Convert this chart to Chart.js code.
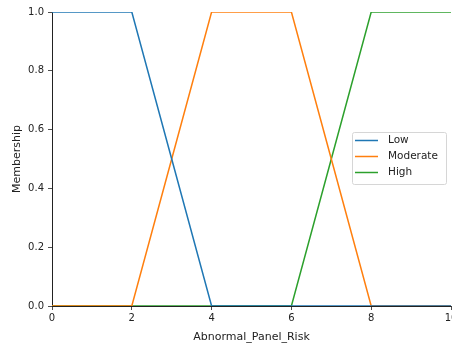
<!DOCTYPE html>
<html><head><meta charset="utf-8">
<script src="https://cdn.jsdelivr.net/npm/chart.js@4/dist/chart.umd.min.js"></script>
<style>html,body{margin:0;padding:0;background:#fff}#wrap{width:452px;height:344px;position:relative}</style>
</head><body><div id="wrap"><canvas id="c"></canvas></div>
<script>
const universe = [0,1,2,3,4,5,6,7,8,9,10];
const lowValues = [1,1,1,0.5,0,0,0,0,0,0,0];
const moderateValues = [0,0,0,0.5,1,1,1,0.5,0,0,0];
const highValues = [0,0,0,0,0,0,0,0.5,1,1,1];
const seriesNames = ['Low','Moderate','High'];
const xTicks = [0,2,4,6,8,10];
const yTicks = [0,0.2,0.4,0.6,0.8,1.0];
const colors = ['#1f77b4','#ff7f0e','#2ca02c'];
const font = {family:'DejaVu Sans', size:10};
const titleFont = {family:'DejaVu Sans', size:11};
const pts = v => universe.map((x,i)=>({x:x,y:v[i]}));
const sets = [lowValues, moderateValues, highValues];
const legendPlugin = {
  id:'customLegend',
  afterDraw(chart){
    const ctx = chart.ctx;
    const x0=352.5, y0=132.5, w=94, h=52;
    ctx.save();
    ctx.fillStyle='rgba(255,255,255,0.8)';
    ctx.strokeStyle='#d6d6d6';
    ctx.lineWidth=1;
    ctx.beginPath();
    if (ctx.roundRect) ctx.roundRect(x0,y0,w,h,2); else ctx.rect(x0,y0,w,h);
    ctx.fill(); ctx.stroke();
    ctx.font='10.5px "DejaVu Sans"';
    ctx.textBaseline='middle';
    chart.data.datasets.forEach((ds,i)=>{
      const y = 140.5 + i*16;
      ctx.strokeStyle=ds.borderColor; ctx.lineWidth=1.5;
      ctx.beginPath(); ctx.moveTo(355,y); ctx.lineTo(378,y); ctx.stroke();
      ctx.fillStyle='#222'; ctx.textAlign='left';
      ctx.fillText(ds.label, 388, y);
    });
    ctx.restore();
  }
};
new Chart(document.getElementById('c'), {
  type:'line',
  data:{datasets: seriesNames.map((n,i)=>({label:n, data:pts(sets[i]), borderColor:colors[i], backgroundColor:colors[i], borderWidth:1.5, pointRadius:0, tension:0, fill:false}))},
  options:{
    responsive:true, maintainAspectRatio:false, animation:false,
    layout:{padding:{top:12,right:1,left:0,bottom:0}},
    plugins:{legend:{display:false}, tooltip:{enabled:false}},
    scales:{
      x:{type:'linear', min:0, max:10,
        afterBuildTicks(s){s.ticks = xTicks.map(v=>({value:v}));},
        afterFit(s){s.height=38; s.paddingLeft=0; s.paddingRight=0;},
        grid:{display:true, drawOnChartArea:false, drawTicks:true, tickLength:4, color:'#222', lineWidth:0.8},
        border:{display:true, color:'#222', width:1},
        ticks:{font:font, color:'#222', padding:2, maxRotation:0, callback:v=>String(v)},
        title:{display:true, text:'Abnormal_Panel_Risk', font:titleFont, color:'#222', padding:{top:2.5,bottom:0}}
      },
      y:{type:'linear', min:0, max:1,
        afterBuildTicks(s){s.ticks = yTicks.map(v=>({value:v}));},
        afterFit(s){s.width=52; s.paddingTop=0; s.paddingBottom=0;},
        grid:{display:true, drawOnChartArea:false, drawTicks:true, tickLength:4, color:'#222', lineWidth:0.8},
        border:{display:true, color:'#222', width:1},
        ticks:{font:font, color:'#222', padding:4, callback:v=>v.toFixed(1)},
        title:{display:true, text:'Membership', font:titleFont, color:'#222', padding:{top:11,bottom:0}}
      }
    }
  },
  plugins:[legendPlugin]
});
</script></body></html>
